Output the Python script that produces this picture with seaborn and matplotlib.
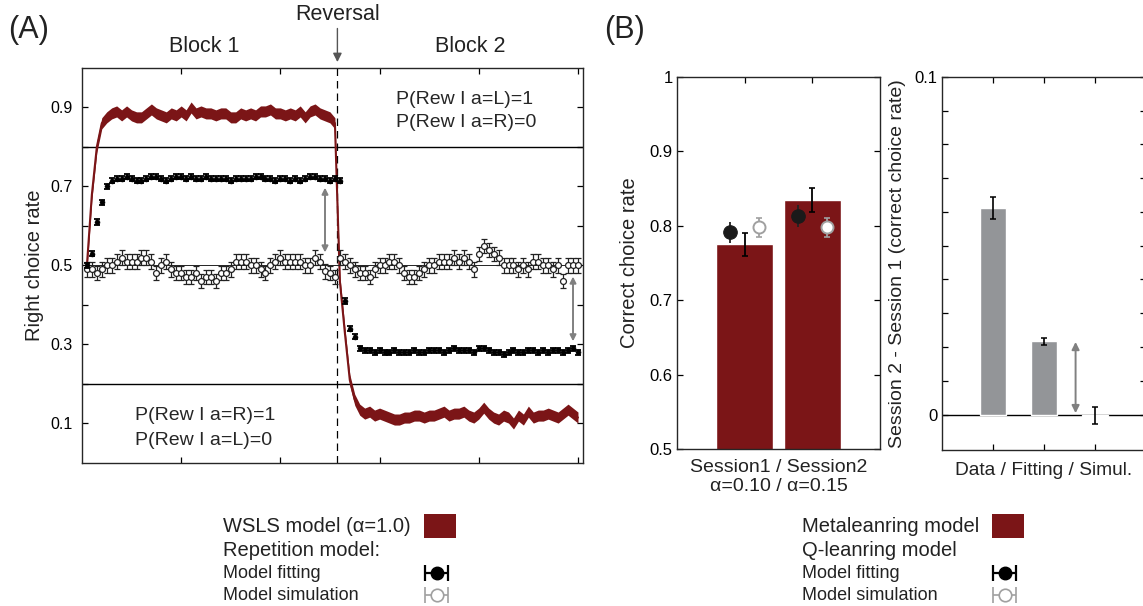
import numpy as np
import matplotlib
matplotlib.use("Agg")
import matplotlib.pyplot as plt
import seaborn as sns
from matplotlib.patches import Rectangle

sns.set_style("ticks")
plt.rcParams["font.family"] = ["Liberation Sans", "DejaVu Sans"]

# ---------------- data: panel A (right choice rate per trial) ----------------
trials = np.arange(1, 101)
reversal_at = 51.5

# WSLS model (alpha = 1.0)
wsls_rate = [
    0.50, 0.68, 0.80, 0.86, 0.875, 0.885, 0.89, 0.88, 0.89, 0.88,
    0.875, 0.875, 0.885, 0.895, 0.885, 0.88, 0.875, 0.885, 0.88, 0.89,
    0.88, 0.90, 0.885, 0.89, 0.885, 0.885, 0.88, 0.885, 0.885, 0.875,
    0.875, 0.885, 0.88, 0.885, 0.88, 0.89, 0.89, 0.895, 0.885, 0.885,
    0.88, 0.885, 0.88, 0.89, 0.875, 0.89, 0.895, 0.885, 0.88, 0.875,
    0.86, 0.46, 0.33, 0.21, 0.16, 0.135, 0.125, 0.13, 0.12, 0.125,
    0.12, 0.115, 0.11, 0.11, 0.115, 0.115, 0.12, 0.12, 0.115, 0.12,
    0.12, 0.125, 0.13, 0.12, 0.125, 0.125, 0.13, 0.12, 0.115, 0.125,
    0.14, 0.125, 0.115, 0.11, 0.12, 0.115, 0.10, 0.12, 0.11, 0.13,
    0.115, 0.12, 0.12, 0.125, 0.12, 0.115, 0.125, 0.135, 0.125, 0.115,
]
wsls_band = 0.014

# Repetition model, fitting
fit_rate = [
    0.50, 0.53, 0.61, 0.66, 0.70, 0.715, 0.72, 0.72, 0.725, 0.72,
    0.715, 0.715, 0.72, 0.725, 0.725, 0.72, 0.715, 0.72, 0.725, 0.725,
    0.72, 0.725, 0.72, 0.72, 0.725, 0.72, 0.72, 0.72, 0.72, 0.715,
    0.72, 0.72, 0.72, 0.72, 0.725, 0.725, 0.72, 0.72, 0.715, 0.72,
    0.72, 0.715, 0.72, 0.715, 0.72, 0.725, 0.725, 0.72, 0.72, 0.715,
    0.72, 0.715, 0.41, 0.34, 0.32, 0.29, 0.285, 0.285, 0.28, 0.285,
    0.28, 0.28, 0.285, 0.28, 0.28, 0.28, 0.285, 0.28, 0.28, 0.285,
    0.285, 0.285, 0.28, 0.285, 0.29, 0.285, 0.285, 0.285, 0.28, 0.29,
    0.29, 0.285, 0.28, 0.28, 0.275, 0.28, 0.285, 0.28, 0.28, 0.285,
    0.285, 0.28, 0.285, 0.28, 0.285, 0.285, 0.28, 0.285, 0.29, 0.28,
]
fit_err = 0.007

# Repetition model, simulation
sim_rate = [
    0.49, 0.49, 0.48, 0.49, 0.50, 0.50, 0.51, 0.52, 0.51, 0.51,
    0.51, 0.52, 0.52, 0.51, 0.48, 0.50, 0.51, 0.49, 0.48, 0.48,
    0.47, 0.47, 0.48, 0.46, 0.47, 0.47, 0.46, 0.48, 0.48, 0.49,
    0.51, 0.51, 0.51, 0.50, 0.50, 0.49, 0.48, 0.50, 0.51, 0.52,
    0.51, 0.51, 0.51, 0.51, 0.50, 0.50, 0.52, 0.51, 0.485, 0.48,
    0.47, 0.52, 0.51, 0.50, 0.49, 0.48, 0.48, 0.47, 0.49, 0.50,
    0.50, 0.51, 0.51, 0.50, 0.48, 0.47, 0.47, 0.48, 0.49, 0.50,
    0.50, 0.51, 0.51, 0.51, 0.52, 0.51, 0.52, 0.51, 0.49, 0.53,
    0.55, 0.54, 0.53, 0.52, 0.50, 0.50, 0.50, 0.49, 0.50, 0.49,
    0.51, 0.51, 0.50, 0.50, 0.49, 0.50, 0.46, 0.50, 0.50, 0.50,
]
sim_err = 0.018

# ---------------- data: panel B ----------------
session_pos = [1, 2]
meta_rate = [0.775, 0.835]
meta_err = [0.015, 0.016]
qfit_rate = [0.791, 0.813]
qfit_err = [0.014, 0.015]
qsim_rate = [0.798, 0.798]
qsim_err = [0.013, 0.013]

diff_pos = [1, 2, 3]
diff_values = [0.0611, 0.0217, -0.0004]
diff_err = [0.0032, 0.0011, 0.0025]

red = "#7b1517"
bar_gray = "#939598"
arrow_gray = "#808080"
sim_gray = "#a0a0a0"

fig = plt.figure(figsize=(11.43, 6.06), dpi=100)

tick_kw = dict(direction="in", length=4, width=0.9, colors="k")

# ================= panel A =================
axA = fig.add_axes([0.0717, 0.2360, 0.4383, 0.6518])
axA.axhline(0.8, color="k", lw=1.0, zorder=1)
axA.axhline(0.2, color="k", lw=1.0, zorder=1)
axA.axhline(0.5, color="k", lw=0.6, zorder=1)
axA.axvline(reversal_at, color="k", lw=0.9, ls=(0, (6, 4)), zorder=1)

w = np.array(wsls_rate)
axA.fill_between(trials, w - wsls_band, w + wsls_band, color=red, lw=0, zorder=2)
sns.lineplot(x=trials, y=wsls_rate, color=red, lw=1.5, ax=axA, zorder=2)

axA.errorbar(trials, sim_rate, yerr=sim_err, fmt="none", ecolor="#222222",
             elinewidth=0.9, capsize=2.5, capthick=0.9, zorder=3)
sns.scatterplot(x=trials, y=sim_rate, marker="o", s=18, color="white",
                edgecolor="#222222", linewidth=0.9, ax=axA, zorder=4)
axA.errorbar(trials, fit_rate, yerr=fit_err, fmt="none", ecolor="k",
             elinewidth=1.2, capsize=2.4, capthick=1.3, zorder=5)
sns.scatterplot(x=trials, y=fit_rate, marker="o", s=13, color="k",
                edgecolor="k", linewidth=0.4, ax=axA, zorder=6)

arrow_kw = dict(arrowstyle="<|-|>", color=arrow_gray, lw=1.4,
                mutation_scale=9, shrinkA=0, shrinkB=0)
axA.annotate("", xy=(49, 0.533), xytext=(49, 0.697), arrowprops=arrow_kw, zorder=7)
axA.annotate("", xy=(99, 0.308), xytext=(99, 0.472), arrowprops=arrow_kw, zorder=7)

axA.text(63.3, 0.92, "P(Rew I a=L)=1", fontsize=14, va="center", ha="left")
axA.text(63.3, 0.862, "P(Rew I a=R)=0", fontsize=14, va="center", ha="left")
axA.text(10.7, 0.12, "P(Rew I a=R)=1", fontsize=14, va="center", ha="left")
axA.text(10.7, 0.057, "P(Rew I a=L)=0", fontsize=14, va="center", ha="left")

axA.set_xlim(0, 101)
axA.set_ylim(0, 1)
axA.set_xticks([20, 40, 60, 80, 100])
axA.set_xticklabels([])
axA.set_yticks([0.1, 0.2, 0.3, 0.4, 0.5, 0.6, 0.7, 0.8, 0.9])
axA.set_yticklabels(["0.1", "", "0.3", "", "0.5", "", "0.7", "", "0.9"], fontsize=11.5)
axA.tick_params(axis="both", top=True, right=True, pad=7, **tick_kw)
axA.set_ylabel("Right choice rate", fontsize=14.5, color="#222222", labelpad=4)
axA.set_xlabel("")
for s in axA.spines.values():
    s.set_linewidth(1.0)
    s.set_visible(True)

# reversal arrow above panel A
axA.annotate("", xy=(reversal_at, 1.015), xytext=(reversal_at, 1.10),
             annotation_clip=False,
             arrowprops=dict(arrowstyle="-|>", color="#555555", lw=1.0,
                             mutation_scale=13, shrinkA=0, shrinkB=0))

# ================= panel B left =================
axB1 = fig.add_axes([0.5923, 0.2591, 0.1776, 0.6139])
sns.barplot(x=session_pos, y=meta_rate, native_scale=True, color=red,
            saturation=1, width=0.84, errorbar=None, ax=axB1, zorder=1)
axB1.errorbar(session_pos, meta_rate, yerr=meta_err, fmt="none", ecolor="k",
              elinewidth=1.3, capsize=2.5, capthick=1.2, zorder=3)
xf = np.array(session_pos) - 0.21
xs = np.array(session_pos) + 0.21
axB1.errorbar(xf, qfit_rate, yerr=qfit_err, fmt="none", ecolor="#222222",
              elinewidth=1.3, capsize=0, zorder=4)
sns.scatterplot(x=xf, y=qfit_rate, s=95, color="#1a1a1a", edgecolor="#1a1a1a",
                ax=axB1, zorder=5)
axB1.errorbar(xs, qsim_rate, yerr=qsim_err, fmt="none", ecolor=sim_gray,
              elinewidth=1.3, capsize=2.0, capthick=1.2, zorder=4)
sns.scatterplot(x=xs, y=qsim_rate, s=75, color="white", edgecolor=sim_gray,
                linewidth=1.4, ax=axB1, zorder=5)
axB1.set_xlim(0, 3)
axB1.set_ylim(0.5, 1.0)
axB1.set_xticks(session_pos)
axB1.set_xticklabels([])
axB1.set_yticks([0.5, 0.6, 0.7, 0.8, 0.9, 1.0])
axB1.set_yticklabels(["0.5", "0.6", "0.7", "0.8", "0.9", "1"], fontsize=12)
axB1.tick_params(axis="both", top=True, right=True, bottom=False, pad=3, **tick_kw)
axB1.set_ylabel("Correct choice rate", fontsize=14.5, color="#222222", labelpad=8)
axB1.set_xlabel("Session1 / Session2\n\u03b1=0.10 / \u03b1=0.15", fontsize=14,
                color="#222222", labelpad=4, linespacing=1.15)
for s in axB1.spines.values():
    s.set_linewidth(1.0)
    s.set_visible(True)

# ================= panel B right =================
axB2 = fig.add_axes([0.8241, 0.2575, 0.1785, 0.6155])
axB2.axhline(0, color="k", lw=1.0, zorder=1)
sns.barplot(x=diff_pos, y=diff_values, native_scale=True, color=bar_gray,
            saturation=1, width=0.52, errorbar=None, ax=axB2, zorder=2)
axB2.errorbar(diff_pos, diff_values, yerr=diff_err, fmt="none", ecolor="k",
              elinewidth=1.2, capsize=2.0, capthick=1.1, zorder=3)
axB2.annotate("", xy=(2.62, 0.0004), xytext=(2.62, 0.0215),
              arrowprops=dict(arrowstyle="<|-|>", color=arrow_gray, lw=1.4,
                              mutation_scale=11, shrinkA=0, shrinkB=0))
axB2.set_xlim(0, 4)
axB2.set_ylim(-0.0105, 0.1)
axB2.set_xticks(diff_pos)
axB2.set_xticklabels([])
yt = [0, 0.01, 0.02, 0.03, 0.04, 0.05, 0.06, 0.07, 0.08, 0.09, 0.1]
axB2.set_yticks(yt)
axB2.set_yticklabels(["0"] + [""] * 9 + ["0.1"], fontsize=12)
axB2.tick_params(axis="both", top=True, right=True, pad=3, **tick_kw)
axB2.set_ylabel("Session 2 - Session 1 (correct choice rate)", fontsize=14,
                color="#222222", labelpad=6)
axB2.set_xlabel("Data / Fitting / Simul.", fontsize=13.8, color="#222222", labelpad=6)
for s in axB2.spines.values():
    s.set_linewidth(1.0)
    s.set_visible(True)

# ================= labels and legends (pixel overlay) =================
lg = fig.add_axes([0, 0, 1, 1], zorder=-1)
lg.set_xlim(0, 1143)
lg.set_ylim(606, 0)
lg.axis("off")

txt = "#222222"
lg.text(8, 30, "(A)", fontsize=22, va="center", ha="left", color=txt)
lg.text(604, 30, "(B)", fontsize=22, va="center", ha="left", color=txt)
lg.text(204, 47, "Block 1", fontsize=15.5, va="center", ha="center", color=txt)
lg.text(470, 47, "Block 2", fontsize=15.5, va="center", ha="center", color=txt)
lg.text(338, 15, "Reversal", fontsize=15.5, va="center", ha="center", color=txt)


def legend_block(x_text, x_mark, title1, title2):
    lg.text(x_text, 527, title1, fontsize=14.5, va="center", ha="left", color=txt)
    lg.add_patch(Rectangle((x_mark, 514), 32, 24, facecolor=red, edgecolor="none"))
    lg.text(x_text, 550, title2, fontsize=14.5, va="center", ha="left", color=txt)
    lg.text(x_text, 573, "Model fitting", fontsize=13, va="center", ha="left", color=txt)
    lg.text(x_text, 595, "Model simulation", fontsize=13, va="center", ha="left", color=txt)
    cx = x_mark + 13
    lg.errorbar([cx], [573], xerr=[[12], [11]], fmt="o", color="k", ms=9,
                capsize=6, elinewidth=1.6, capthick=1.6)
    lg.errorbar([cx], [595], xerr=[[12], [11]], fmt="o", color=sim_gray, ms=9,
                mfc="white", mec=sim_gray, mew=1.2, capsize=6,
                elinewidth=1.2, capthick=1.2)


legend_block(223, 424, "WSLS model (\u03b1=1.0)", "Repetition model:")
legend_block(802, 992, "Metaleanring model", "Q-leanring model")

fig.savefig("out.png", dpi=100)
